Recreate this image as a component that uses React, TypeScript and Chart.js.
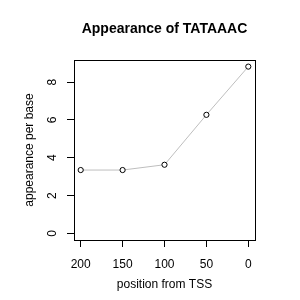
import React, { useEffect, useRef } from "react";
import { Chart, registerables } from "chart.js";

Chart.register(...registerables);

const positions = [200, 150, 100, 50, 0];
const appearance = [3.35, 3.35, 3.63, 6.27, 8.82];
const xTicks = [200, 150, 100, 50, 0];
const yTicks = [0, 2, 4, 6, 8];
const titleText = "Appearance of TATAAAC";
const xTitle = "position from TSS";
const yTitle = "appearance per base";

const FONT = "'Liberation Sans', Arial, Helvetica, sans-serif";

const rStyle = {
  id: "rStyle",
  afterDraw(chart: any) {
    const { ctx, chartArea: a, scales } = chart;
    ctx.save();
    ctx.strokeStyle = "#000";
    ctx.lineWidth = 1;
    ctx.strokeRect(
      Math.round(a.left) + 0.5,
      Math.round(a.top) + 0.5,
      Math.round(a.right - a.left),
      Math.round(a.bottom - a.top)
    );
    const ys = scales.y;
    ctx.fillStyle = "#000";
    ctx.font = `12px ${FONT}`;
    ctx.textAlign = "center";
    ctx.textBaseline = "alphabetic";
    for (const v of yTicks) {
      const py = ys.getPixelForValue(v);
      ctx.save();
      ctx.translate(a.left - 18.3, py);
      ctx.rotate(-Math.PI / 2);
      ctx.fillText(String(v), 0, 0);
      ctx.restore();
    }
    ctx.restore();
  },
};

export default function App() {
  const ref = useRef<HTMLCanvasElement>(null);
  useEffect(() => {
    if (!ref.current) return;
    const chart = new Chart(ref.current, {
      type: "scatter",
      data: {
        datasets: [
          {
            data: positions.map((x, i) => ({ x, y: appearance[i] })),
            showLine: true,
            borderColor: "#bebebe",
            borderWidth: 1,
            pointRadius: 2.6,
            pointBorderWidth: 1,
            pointBorderColor: "#000",
            pointBackgroundColor: "#fff",
          },
        ],
      },
      plugins: [rStyle],
      options: {
        responsive: false,
        animation: false,
        devicePixelRatio: 1,
        layout: { padding: { left: 0, right: 45, top: 0, bottom: 0 } },
        plugins: {
          legend: { display: false },
          tooltip: { enabled: false },
          title: {
            display: true,
            text: titleText,
            fullSize: false,
            color: "#000",
            font: { family: FONT, size: 14, weight: "bold" },
            padding: { top: 20.8, bottom: 22.4 },
          },
        },
        scales: {
          x: {
            type: "linear",
            reverse: true,
            min: -8,
            max: 208,
            afterBuildTicks: (s: any) => {
              s.ticks = xTicks.map((v) => ({ value: v }));
            },
            afterFit: (s: any) => {
              s.height = 60;
            },
            grid: {
              display: true,
              drawOnChartArea: false,
              drawTicks: true,
              tickLength: 7,
              color: "#000",
              lineWidth: 1,
            },
            border: { display: true, color: "#000", width: 1 },
            ticks: {
              color: "#000",
              font: { family: FONT, size: 12 },
              padding: 10,
              maxRotation: 0,
              autoSkip: false,
              callback: (v: any) => String(v),
            },
            title: {
              display: true,
              text: xTitle,
              color: "#000",
              font: { family: FONT, size: 12 },
              padding: { top: 0, bottom: 8.5 },
            },
          },
          y: {
            type: "linear",
            min: -0.35,
            max: 9.17,
            afterBuildTicks: (s: any) => {
              s.ticks = yTicks.map((v) => ({ value: v }));
            },
            afterFit: (s: any) => {
              s.width = 74;
            },
            grid: {
              display: true,
              drawOnChartArea: false,
              drawTicks: true,
              tickLength: 7,
              color: "#000",
              lineWidth: 1,
            },
            border: { display: true, color: "#000", width: 1 },
            ticks: { display: false },
            title: {
              display: true,
              text: yTitle,
              color: "#000",
              font: { family: FONT, size: 12 },
              padding: { top: 22, bottom: 0 },
            },
          },
        },
      } as any,
    });
    return () => chart.destroy();
  }, []);
  return (
    <div style={{ position: "absolute", left: 0, top: 0, width: 300, height: 300, background: "#fff" }}>
      <canvas ref={ref} width={300} height={300} />
    </div>
  );
}
